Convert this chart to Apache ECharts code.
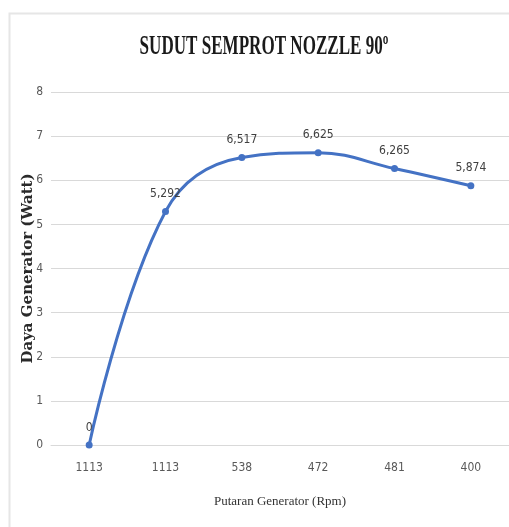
<!DOCTYPE html>
<html>
<head>
<meta charset="utf-8">
<script src="https://cdn.jsdelivr.net/npm/echarts@6/dist/echarts.min.js"></script>
<style>html,body{margin:0;padding:0;background:#fff;}#c{width:509px;height:527px;}</style>
</head>
<body>
<div id="c"></div>
<script>
const titleText = 'SUDUT SEMPROT NOZZLE 90º';
const xAxisTitle = 'Putaran Generator (Rpm)';
const yAxisTitle = 'Daya Generator (Watt)';
const categories = ['1113', '1113', '538', '472', '481', '400'];
const powerValues = [0, 5.292, 6.517, 6.625, 6.265, 5.874];
const yTicks = [0, 1, 2, 3, 4, 5, 6, 7, 8];

const chart = echarts.init(document.getElementById('c'), null, {renderer: 'canvas'});
const condensed = '"Liberation Sans Narrow", "DejaVu Sans Condensed", sans-serif';
chart.setOption({
  animation: false,
  backgroundColor: '#ffffff',
  graphic: [
    {type: 'rect', left: 7, top: 11, shape: {width: 520, height: 530}, style: {fill: 'none', stroke: '#e6e6e6', lineWidth: 2}, silent: true},
    {type: 'text', x: 264, y: 34, scaleX: 0.632,
     style: {text: titleText, x: 0, y: 0, align: 'center', verticalAlign: 'top', font: 'bold 27px "Liberation Serif", "Times New Roman", serif', fill: '#1a1a1a'}}
  ],
  grid: {left: 51, right: 0, top: 92, bottom: 82},
  xAxis: {
    type: 'category',
    data: categories,
    boundaryGap: true,
    name: xAxisTitle,
    nameLocation: 'middle',
    nameGap: 50,
    nameTextStyle: {fontFamily: '"Liberation Serif", serif', fontSize: 13, color: '#333'},
    axisLine: {show: true, lineStyle: {color: '#d9d9d9', width: 1}},
    axisTick: {show: false},
    axisLabel: {fontFamily: condensed, fontSize: 12, color: '#595959', margin: 17}
  },
  yAxis: {
    type: 'value',
    min: yTicks[0],
    max: yTicks[yTicks.length - 1],
    interval: 1,
    name: yAxisTitle,
    nameLocation: 'middle',
    nameGap: 15,
    nameMoveOverlap: false,
    nameTextStyle: {fontFamily: '"DejaVu Serif", serif', fontWeight: 'bold', fontSize: 15, color: '#2a2a2a'},
    axisLine: {show: false},
    axisTick: {show: false},
    axisLabel: {fontFamily: condensed, fontSize: 12, color: '#595959', margin: 8},
    splitLine: {lineStyle: {color: '#d9d9d9', width: 1}}
  },
  series: [{
    type: 'line',
    data: powerValues,
    smooth: 0.4,
    symbol: 'circle',
    symbolSize: 7,
    lineStyle: {color: '#4472C4', width: 3},
    itemStyle: {color: '#4472C4'},
    label: {
      show: true,
      position: 'top',
      distance: 8,
      fontFamily: condensed,
      fontSize: 12,
      color: '#404040',
      formatter: p => p.value === 0 ? '0' : p.value.toFixed(3).replace('.', ',')
    }
  }]
});
</script>
</body>
</html>
